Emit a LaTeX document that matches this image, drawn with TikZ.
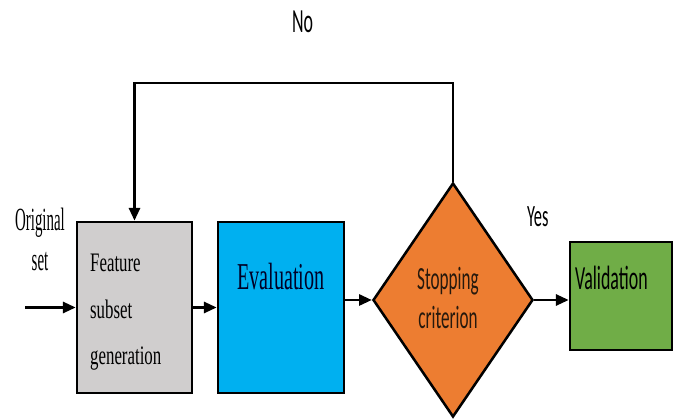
\documentclass[tikz,border=0pt]{standalone}
\usepackage{fontspec}
\setmainfont{Liberation Serif}
\newfontfamily\calibri{Carlito}
\usetikzlibrary{shapes.geometric}
\usetikzlibrary{arrows.meta}
\definecolor{gengray}{RGB}{208,206,206}
\definecolor{evalblue}{RGB}{0,176,240}
\definecolor{stoporange}{RGB}{237,125,49}
\definecolor{valgreen}{RGB}{112,173,71}

\begin{document}
\begin{tikzpicture}[x=0.025cm, y=-0.025cm,
    block/.style={rectangle, draw=black, line width=2pt, inner sep=0pt},
    flow/.style={-{Triangle[length=9pt,width=8pt]}, line width=1.5pt},
    txt/.style={inner sep=0pt, xscale=0.53}]

    \useasboundingbox (0,0) rectangle (679,419);

    % boxes
    \node[block, fill=gengray, minimum width=2.875cm, minimum height=4.275cm]  at (134.5, 307.5) (gen) {};
    \node[block, fill=evalblue, minimum width=3.15cm, minimum height=4.275cm]  at (281, 307.5) (eval) {};
    \node[diamond, draw=black, line width=1.8pt, fill=stoporange, inner sep=0pt, minimum width=4cm, minimum height=5.85cm]  at (453, 300) (stop) {};
    \node[block, fill=valgreen, minimum width=2.55cm, minimum height=2.7cm]  at (621, 296) (val) {};

    % texts
    \node[txt, xscale=0.87, anchor=north, align=center, font=\fontsize{23}{28}\selectfont]  at (40, 208) (orig) {Original\\set};
    \node[txt, xscale=1.19, anchor=north west, align=left, font=\fontsize{19}{33}\selectfont]  at (90, 254) (gentext) {Feature\\subset\\generation};
    \node[txt, anchor=base west, font=\fontsize{27}{32}\selectfont, text=black!85!blue]  at (237, 290) (evaltext) {Evaluation};
    \node[txt, anchor=north, align=center, font=\calibri\fontsize{23}{28}\selectfont, text=black!80!brown]  at (448, 267) (stoptext) {Stopping\\criterion};
    \node[txt, anchor=base west, font=\calibri\fontsize{24}{28}\selectfont]  at (575, 290) (valtext) {Validation};
    \node[txt, anchor=base west, font=\calibri\fontsize{22}{26}\selectfont]  at (527, 227) (yes) {Yes};
    \node[txt, anchor=base west, font=\calibri\fontsize{24}{28}\selectfont]  at (292, 33) (no) {No};

    % connectors
    \coordinate (in) at (25, 307.5);
    \coordinate (loop) at (453, 83);
    \draw[flow] (in) -- (gen.west);
    \draw[flow] (gen) -- (eval);
    \draw[flow] (eval.east |- stop.west) -- (stop.west);
    \draw[flow] (stop.east) -- (stop.east -| val.west);
    \draw[flow] (stop.north) -- (loop) -| (gen.north);

\end{tikzpicture}
\end{document}
